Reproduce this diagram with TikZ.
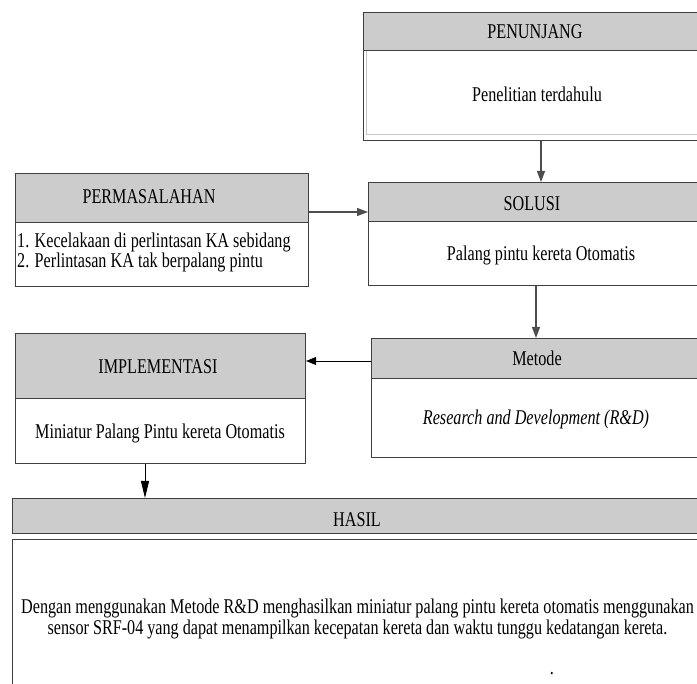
\documentclass[tikz,border=0pt]{standalone}
\usepackage{fontspec}
\setmainfont{Liberation Serif}[FakeStretch=0.77]
\usetikzlibrary{arrows.meta}
\definecolor{hdr}{HTML}{CCCCCC}
\definecolor{edgec}{HTML}{3F3F3F}
\definecolor{garrow}{HTML}{4D4D4D}
\begin{document}
\begin{tikzpicture}[x=1pt,y=-1pt,
  boxshape/.style={rectangle, draw=edgec, line width=1.1pt, inner sep=0pt, anchor=north west},
  hbox/.style={boxshape, fill=hdr},
  bbox/.style={boxshape, fill=white},
  lbl/.style={font=\fontsize{21}{25}\selectfont, inner sep=0pt, text height=14pt, text depth=0pt},
  garr/.style={draw=garrow, line width=1.1pt, -{Triangle[length=11pt,width=8pt]}, fill=garrow},
  barr/.style={draw=black, line width=0.9pt, -{Triangle[length=10pt,width=8pt]}}
]
\useasboundingbox (0,0) rectangle (697,684);
\clip (0,0) rectangle (697,684);

% PENUNJANG
\node[bbox, minimum width=350pt, minimum height=90pt] (penB) at (363,50) {};
\draw[gray!45, line width=1pt] (366,50) -- (366,135) -- (713,135);
\node[hbox, minimum width=350pt, minimum height=38pt] (penH) at (363,12) {};
\node[lbl] (penT) at (535,32) {PENUNJANG};
\node[lbl] (penX) at (537,95) {Penelitian terdahulu};

% SOLUSI
\node[bbox, minimum width=330pt, minimum height=64pt] (solB) at (368,221) {};
\node[hbox, minimum width=330pt, minimum height=39pt] (solH) at (368,182) {};
\node[lbl] (solT) at (532,204) {SOLUSI};
\node[lbl] (solX) at (541,254) {Palang pintu kereta Otomatis};

% PERMASALAHAN
\node[bbox, minimum width=293pt, minimum height=64pt] (perB) at (15,222) {};
\node[hbox, minimum width=293pt, minimum height=49pt] (perH) at (15,173) {};
\node[lbl] (perT) at (149,197) {PERMASALAHAN};
\node[lbl, anchor=west] (perX1) at (17,241) {1. Kecelakaan di perlintasan KA sebidang};
\node[lbl, anchor=west] (perX2) at (17,261) {2. Perlintasan KA tak berpalang pintu};

% IMPLEMENTASI
\node[bbox, minimum width=290pt, minimum height=65pt] (impB) at (15,398) {};
\node[hbox, minimum width=290pt, minimum height=65pt] (impH) at (15,333) {};
\node[lbl] (impT) at (158,367) {IMPLEMENTASI};
\node[lbl] (impX) at (160,432) {Miniatur Palang Pintu kereta Otomatis};

% Metode
\node[bbox, minimum width=330pt, minimum height=79pt] (metB) at (371,378) {};
\node[hbox, minimum width=330pt, minimum height=40pt] (metH) at (371,338) {};
\node[lbl] (metT) at (537,359) {Metode};
\node[lbl] (metX) at (536,418) {\itshape Research and Development (R\&D)};

% HASIL
\node[hbox, minimum width=691pt, minimum height=35pt] (hasH) at (12,498) {};
\node[bbox, minimum width=691pt, minimum height=160pt] (hasB) at (12,539) {};
\node[lbl] (hasT) at (357,520) {HASIL};
\node[lbl] (hasX1) at (357.5,606.5) {Dengan menggunakan Metode R\&D menghasilkan miniatur palang pintu kereta otomatis menggunakan};
\node[lbl] (hasX2) at (357.5,627.5) {sensor SRF-04 yang dapat menampilkan kecepatan kereta dan waktu tunggu kedatangan kereta.};
\node[lbl] (hasDot) at (552,667) {.};

% connectors
\coordinate (ax1) at (541,0);
\coordinate (ax3) at (536,0);
\coordinate (ay2) at (0,212);
\coordinate (ay4) at (0,361);
\coordinate (ax5) at (145,0);
\draw[garr] (penB.south -| ax1) -- (solH.north -| ax1);
\draw[garr] (perH.east |- ay2) -- (solH.west |- ay2);
\draw[garr] (solB.south -| ax3) -- (metH.north -| ax3);
\draw[barr] (metH.west |- ay4) -- (impH.east |- ay4);
\draw[barr, -{Triangle[length=17pt,width=8pt]}] (impB.south -| ax5) -- (hasH.north -| ax5);
\end{tikzpicture}
\end{document}
